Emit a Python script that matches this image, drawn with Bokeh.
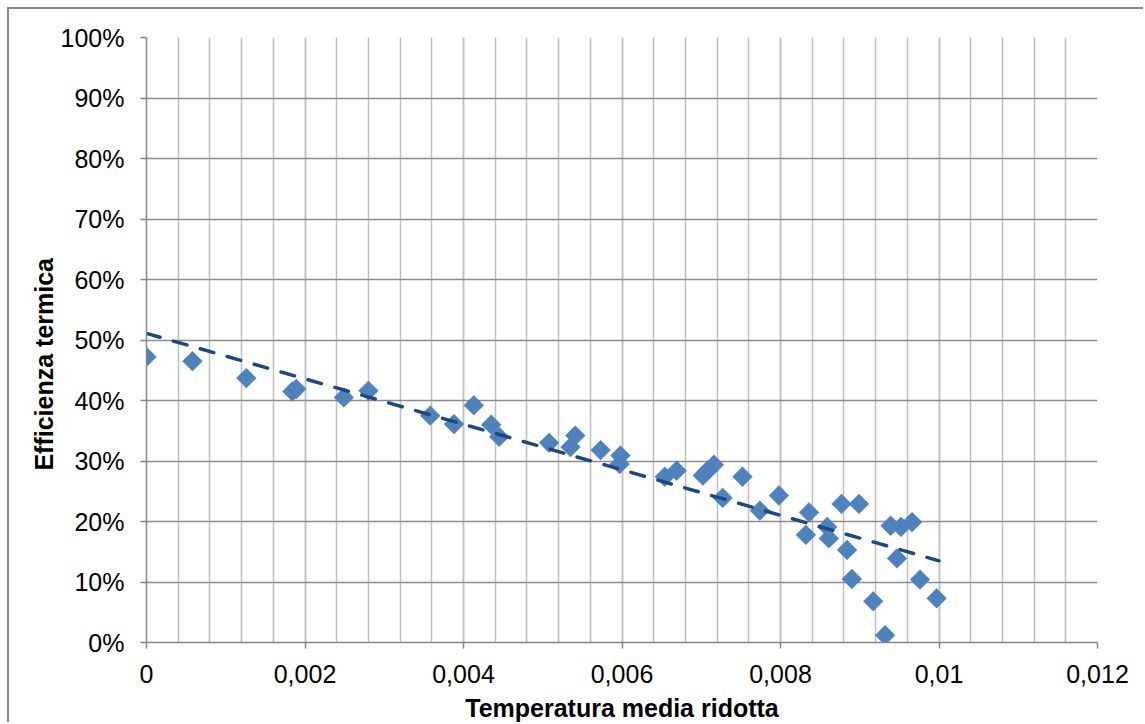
import math
from bokeh.plotting import figure
from bokeh.models import FixedTicker, NumeralTickFormatter, CustomJSTickFormatter, Range1d
from bokeh.embed import file_html
from bokeh.resources import INLINE

# ---- data ----
temp_rid = [0.0, 0.00058, 0.00126, 0.00184, 0.00189, 0.00249, 0.0028, 0.00358, 0.00388,
            0.00413, 0.00435, 0.00445, 0.00508, 0.00535, 0.00541, 0.00573, 0.00597, 0.00598,
            0.00654, 0.00669, 0.00702, 0.00708, 0.00716, 0.00727, 0.00752, 0.00774, 0.00798,
            0.00832, 0.00836, 0.00859, 0.00861, 0.00877, 0.00884, 0.0089, 0.00899, 0.00917,
            0.00932, 0.00939, 0.00947, 0.00952, 0.00966, 0.00976, 0.00997]
efficienza = [0.472, 0.465, 0.437, 0.415, 0.419, 0.405, 0.416, 0.375, 0.361,
              0.392, 0.360, 0.340, 0.330, 0.323, 0.342, 0.318, 0.295, 0.309,
              0.274, 0.284, 0.276, 0.284, 0.294, 0.239, 0.274, 0.218, 0.243,
              0.178, 0.215, 0.191, 0.172, 0.229, 0.153, 0.105, 0.229, 0.068,
              0.012, 0.193, 0.139, 0.191, 0.199, 0.104, 0.073]
trend_x = [0.0, 0.01]
trend_y = [0.511, 0.135]

x_ticks = [0.0, 0.002, 0.004, 0.006, 0.008, 0.010, 0.012]
y_ticks = [0.0, 0.1, 0.2, 0.3, 0.4, 0.5, 0.6, 0.7, 0.8, 0.9, 1.0]
x_minor = [round(i * 0.0004, 4) for i in range(31)]

FONT = "Liberation Sans"

p = figure(width=1136, height=715, output_backend="svg", toolbar_location=None,
           x_range=Range1d(0, 0.012), y_range=Range1d(0, 1.0),
           min_border_left=137, min_border_top=28, min_border_right=48, min_border_bottom=81,
           margin=(7, 0, 0, 7),
           styles={"border-top": "2px solid #8a8a8a", "border-left": "2px solid #8a8a8a"})
p.outline_line_color = None
p.background_fill_color = "white"
p.border_fill_color = "white"

# grids
p.xgrid.ticker = FixedTicker(ticks=x_ticks, minor_ticks=x_minor)
p.xgrid.grid_line_color = "#bfbfbf"
p.xgrid.grid_line_width = 1.5
p.xgrid.minor_grid_line_color = "#bfbfbf"
p.xgrid.minor_grid_line_width = 1.5
p.ygrid.ticker = FixedTicker(ticks=y_ticks)
p.ygrid.grid_line_color = "#8c8c8c"
p.ygrid.grid_line_width = 1.5

# axes
p.xaxis.ticker = FixedTicker(ticks=x_ticks, minor_ticks=x_minor)
p.xaxis.formatter = CustomJSTickFormatter(
    code="return (Math.round(tick*1000)/1000).toString().replace('.', ',');")
p.yaxis.ticker = FixedTicker(ticks=y_ticks)
p.yaxis.formatter = NumeralTickFormatter(format="0%")

for ax in (p.xaxis[0], p.yaxis[0]):
    ax.axis_line_color = "#868686"
    ax.axis_line_width = 1.5
    ax.major_tick_line_color = "#868686"
    ax.major_tick_line_width = 1.5
    ax.major_tick_out = 6
    ax.major_tick_in = 0
    ax.minor_tick_out = 0
    ax.minor_tick_in = 0
    ax.major_label_text_font = FONT
    ax.major_label_text_font_size = "25px"
    ax.major_label_text_color = "black"
    ax.axis_label_text_font = FONT
    ax.axis_label_text_font_size = "25px"
    ax.axis_label_text_font_style = "bold"
    ax.axis_label_text_color = "black"

p.xaxis.axis_label = "Temperatura media ridotta"
p.xaxis.major_label_standoff = 16
p.xaxis.axis_label_standoff = 8
# trailing no-break spaces push the title slightly below the frame centre, as in the original
p.yaxis.axis_label = "Efficienza termica" + "\u00a0" * 7
p.yaxis.major_label_standoff = 16
p.yaxis.axis_label_standoff = 0

# points
p.scatter(temp_rid, efficienza, marker="square", size=14, angle=math.pi / 4,
          fill_color="#4f81bd", line_color="#4f81bd", line_width=0.5)

# linear trend line
p.line(trend_x, trend_y, line_color="#1f497d", line_width=3.5, line_dash="14 14",
       line_cap="round")

open("out.html", "w").write(file_html(p, INLINE))
